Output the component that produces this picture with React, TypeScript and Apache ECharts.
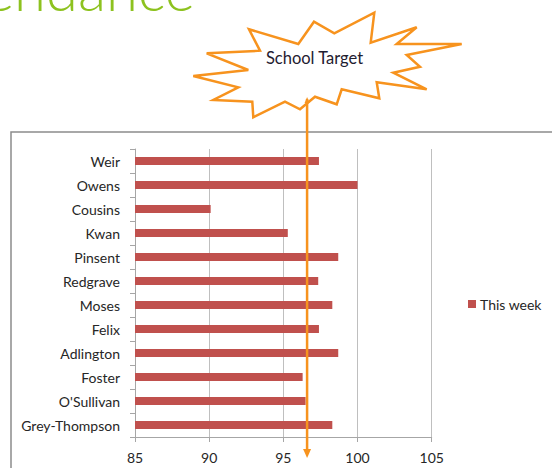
import React, { useEffect, useRef } from "react";
import * as echarts from "echarts";

const categories = ["Weir", "Owens", "Cousins", "Kwan", "Pinsent", "Redgrave", "Moses", "Felix", "Adlington", "Foster", "O'Sullivan", "Grey-Thompson"];
const thisWeek = [97.4, 100, 90.1, 95.3, 98.7, 97.35, 98.3, 97.4, 98.7, 96.3, 96.5, 98.3];
const seriesName = "This week";
const schoolTarget = 96.6;
const xMin = 85;
const xMax = 105;
const xInterval = 5;

const FONT = "Lato";
const ORANGE = "#F7931E";

const starPoints: number[][] = [
  [249, 29.3], [298.3, 44], [314, 21.7], [334.3, 33.3], [374.3, 12.7], [370.7, 42.7],
  [416.7, 27.3], [396.7, 44], [461.7, 44], [406.7, 55], [420, 66.7], [393.3, 72.7],
  [426.7, 89.3], [376.7, 82.3], [379.3, 98.3], [341.7, 89.3], [336.7, 104.3], [315, 96.7],
  [300, 109.3], [285, 101.7], [253.3, 117.3], [252.3, 101.7], [213.3, 100], [238.3, 87.3],
  [193.3, 76], [248.3, 70], [206.7, 53.3], [260, 50.7],
];

export default function App() {
  const ref = useRef<HTMLDivElement>(null);
  useEffect(() => {
    if (!ref.current) return;
    const chart = echarts.init(ref.current, null, { renderer: "svg" });
    chart.setOption({
      animation: false,
      backgroundColor: "#ffffff",
      grid: { left: 135, top: 149, width: 296.7, height: 288, containLabel: false },
      legend: {
        left: 468,
        top: 297,
        padding: 0,
        icon: "rect",
        itemWidth: 8,
        itemHeight: 8,
        itemGap: 4,
        textStyle: { fontFamily: FONT, fontSize: 14, color: "#262626", padding: [0, 0, 0, -1] },
        data: [seriesName],
      },
      xAxis: {
        type: "value",
        min: xMin,
        max: xMax,
        interval: xInterval,
        axisLine: { show: true, lineStyle: { color: "#A6A6A6", width: 1 } },
        axisTick: { show: true, length: 5, lineStyle: { color: "#A6A6A6" } },
        splitLine: { show: true, lineStyle: { color: "#BFBFBF", width: 1 } },
        axisLabel: { fontFamily: FONT, fontSize: 14, color: "#262626", margin: 13 },
      },
      yAxis: {
        type: "category",
        data: categories,
        inverse: true,
        axisLine: { show: true, lineStyle: { color: "#A6A6A6", width: 1 } },
        axisTick: { show: true, length: 5, lineStyle: { color: "#A6A6A6" } },
        axisLabel: { fontFamily: FONT, fontSize: 14, color: "#262626", margin: 15 },
      },
      series: [
        {
          name: seriesName,
          type: "bar",
          data: thisWeek,
          barWidth: 8,
          itemStyle: { color: "#C0504D" },
        },
      ],
    });
    const px = chart.convertToPixel({ xAxisIndex: 0 }, schoolTarget) as number;
    chart.setOption({
      graphic: [
        {
          type: "rect",
          z: 1,
          shape: { x: 11, y: 132, width: 700, height: 500 },
          style: { fill: "none", stroke: "#8C8C8C", lineWidth: 1.5 },
          silent: true,
        },
        {
          type: "text",
          z: 10,
          x: 195,
          y: -41,
          style: {
            text: "Attendance",
            font: `300 58px ${FONT}`,
            fill: "#8DC21F",
            align: "right",
            verticalAlign: "top",
          },
        },
        {
          type: "line",
          z: 100,
          shape: { x1: px, y1: 99, x2: px, y2: 452 },
          style: { stroke: ORANGE, lineWidth: 2.5 },
        },
        {
          type: "polygon",
          z: 100,
          shape: { points: [[px - 4, 449], [px + 4, 449], [px, 458]] },
          style: { fill: ORANGE },
        },
        {
          type: "polygon",
          z: 100,
          shape: { points: [[px - 2.5, 103], [px + 2.5, 103], [px, 97]] },
          style: { fill: ORANGE },
        },
        {
          type: "polygon",
          z: 90,
          shape: { points: starPoints },
          style: { fill: "#ffffff", stroke: ORANGE, lineWidth: 2.5, lineJoin: "miter" },
        },
        {
          type: "text",
          z: 101,
          x: 314.5,
          y: 58,
          style: {
            text: "School Target",
            font: `16.5px ${FONT}`,
            fill: "#1F2030",
            align: "center",
            verticalAlign: "middle",
          },
        },
      ],
    });
    return () => chart.dispose();
  }, []);
  return (
    <div
      ref={ref}
      style={{ position: "absolute", left: 0, top: 0, width: 552, height: 468 }}
    />
  );
}
